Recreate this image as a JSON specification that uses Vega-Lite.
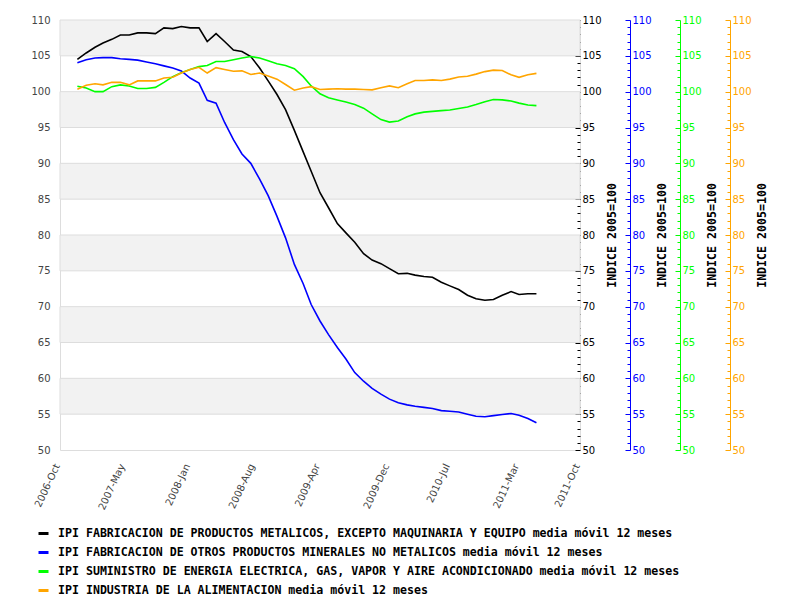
{
  "$schema": "https://vega.github.io/schema/vega-lite/v6.json",
  "width": 520,
  "height": 430,
  "autosize": "none",
  "padding": {"left": 60, "top": 20, "right": 220, "bottom": 150},
  "background": "white",
  "config": {
    "view": {"stroke": "#dddddd"},
    "axis": {"labelFont": "DejaVu Sans", "labelFontSize": 10}
  },
  "datasets": {
    "bands": [
      {"lo": 105, "hi": 110}, {"lo": 95, "hi": 100}, {"lo": 85, "hi": 90},
      {"lo": 75, "hi": 80}, {"lo": 65, "hi": 70}, {"lo": 55, "hi": 60}
    ],
    "ipi": [
      {"date": "2006-12-01", "metal": 104.5, "mineral": 104.05, "energia": 100.75, "alim": 100.35},
      {"date": "2007-01-01", "metal": 105.4, "mineral": 104.45, "energia": 100.5, "alim": 100.9},
      {"date": "2007-02-01", "metal": 106.2, "mineral": 104.7, "energia": 100.0, "alim": 101.1},
      {"date": "2007-03-01", "metal": 106.8, "mineral": 104.75, "energia": 100.0, "alim": 100.95},
      {"date": "2007-04-01", "metal": 107.3, "mineral": 104.75, "energia": 100.7, "alim": 101.3},
      {"date": "2007-05-01", "metal": 107.9, "mineral": 104.6, "energia": 100.95, "alim": 101.3},
      {"date": "2007-06-01", "metal": 107.9, "mineral": 104.5, "energia": 100.8, "alim": 100.95},
      {"date": "2007-07-01", "metal": 108.2, "mineral": 104.4, "energia": 100.45, "alim": 101.5},
      {"date": "2007-08-01", "metal": 108.2, "mineral": 104.15, "energia": 100.45, "alim": 101.5},
      {"date": "2007-09-01", "metal": 108.1, "mineral": 103.9, "energia": 100.6, "alim": 101.5},
      {"date": "2007-10-01", "metal": 108.9, "mineral": 103.6, "energia": 101.3, "alim": 101.9},
      {"date": "2007-11-01", "metal": 108.8, "mineral": 103.3, "energia": 102.1, "alim": 102.0},
      {"date": "2007-12-01", "metal": 109.1, "mineral": 102.9, "energia": 102.65, "alim": 102.6},
      {"date": "2008-01-01", "metal": 108.9, "mineral": 101.9, "energia": 103.1, "alim": 103.1},
      {"date": "2008-02-01", "metal": 108.9, "mineral": 101.2, "energia": 103.5, "alim": 103.4},
      {"date": "2008-03-01", "metal": 107.0, "mineral": 98.8, "energia": 103.65, "alim": 102.6},
      {"date": "2008-04-01", "metal": 108.1, "mineral": 98.4, "energia": 104.2, "alim": 103.35},
      {"date": "2008-05-01", "metal": 107.0, "mineral": 95.7, "energia": 104.2, "alim": 103.1},
      {"date": "2008-06-01", "metal": 105.8, "mineral": 93.3, "energia": 104.45, "alim": 102.85},
      {"date": "2008-07-01", "metal": 105.6, "mineral": 91.3, "energia": 104.7, "alim": 102.9},
      {"date": "2008-08-01", "metal": 104.9, "mineral": 90.0, "energia": 104.9, "alim": 102.4},
      {"date": "2008-09-01", "metal": 103.3, "mineral": 87.8, "energia": 104.7, "alim": 102.6},
      {"date": "2008-10-01", "metal": 101.5, "mineral": 85.5, "energia": 104.3, "alim": 102.2},
      {"date": "2008-11-01", "metal": 99.6, "mineral": 82.6, "energia": 103.9, "alim": 101.75},
      {"date": "2008-12-01", "metal": 97.5, "mineral": 79.6, "energia": 103.65, "alim": 101.0},
      {"date": "2009-01-01", "metal": 94.6, "mineral": 75.9, "energia": 103.2, "alim": 100.2},
      {"date": "2009-02-01", "metal": 91.6, "mineral": 73.2, "energia": 102.1, "alim": 100.5},
      {"date": "2009-03-01", "metal": 88.9, "mineral": 70.3, "energia": 100.8, "alim": 100.7},
      {"date": "2009-04-01", "metal": 85.9, "mineral": 68.0, "energia": 99.7, "alim": 100.3},
      {"date": "2009-05-01", "metal": 83.8, "mineral": 66.1, "energia": 99.15, "alim": 100.35},
      {"date": "2009-06-01", "metal": 81.6, "mineral": 64.3, "energia": 98.85, "alim": 100.4},
      {"date": "2009-07-01", "metal": 80.3, "mineral": 62.7, "energia": 98.55, "alim": 100.35},
      {"date": "2009-08-01", "metal": 79.0, "mineral": 60.8, "energia": 98.2, "alim": 100.35},
      {"date": "2009-09-01", "metal": 77.4, "mineral": 59.6, "energia": 97.7, "alim": 100.3},
      {"date": "2009-10-01", "metal": 76.5, "mineral": 58.6, "energia": 96.9, "alim": 100.25},
      {"date": "2009-11-01", "metal": 76.0, "mineral": 57.8, "energia": 96.1, "alim": 100.55},
      {"date": "2009-12-01", "metal": 75.3, "mineral": 57.1, "energia": 95.75, "alim": 100.8},
      {"date": "2010-01-01", "metal": 74.6, "mineral": 56.6, "energia": 95.9, "alim": 100.55},
      {"date": "2010-02-01", "metal": 74.65, "mineral": 56.3, "energia": 96.5, "alim": 101.1},
      {"date": "2010-03-01", "metal": 74.4, "mineral": 56.1, "energia": 96.9, "alim": 101.55},
      {"date": "2010-04-01", "metal": 74.2, "mineral": 55.95, "energia": 97.15, "alim": 101.55},
      {"date": "2010-05-01", "metal": 74.1, "mineral": 55.8, "energia": 97.25, "alim": 101.65},
      {"date": "2010-06-01", "metal": 73.4, "mineral": 55.5, "energia": 97.35, "alim": 101.55},
      {"date": "2010-07-01", "metal": 72.9, "mineral": 55.4, "energia": 97.45, "alim": 101.75},
      {"date": "2010-08-01", "metal": 72.4, "mineral": 55.3, "energia": 97.65, "alim": 102.05},
      {"date": "2010-09-01", "metal": 71.6, "mineral": 55.0, "energia": 97.85, "alim": 102.15},
      {"date": "2010-10-01", "metal": 71.1, "mineral": 54.7, "energia": 98.2, "alim": 102.45},
      {"date": "2010-11-01", "metal": 70.9, "mineral": 54.65, "energia": 98.6, "alim": 102.8},
      {"date": "2010-12-01", "metal": 71.0, "mineral": 54.8, "energia": 98.9, "alim": 103.0},
      {"date": "2011-01-01", "metal": 71.6, "mineral": 54.95, "energia": 98.85, "alim": 102.95},
      {"date": "2011-02-01", "metal": 72.1, "mineral": 55.1, "energia": 98.7, "alim": 102.35},
      {"date": "2011-03-01", "metal": 71.7, "mineral": 54.85, "energia": 98.4, "alim": 102.0},
      {"date": "2011-04-01", "metal": 71.8, "mineral": 54.4, "energia": 98.15, "alim": 102.35},
      {"date": "2011-05-01", "metal": 71.8, "mineral": 53.8, "energia": 98.05, "alim": 102.55}
    ]
  },
  "layer": [
    {
      "data": {"name": "bands"},
      "mark": {"type": "rect", "fill": "#f2f2f2", "stroke": "#dddddd", "strokeWidth": 1},
      "encoding": {
        "y": {
          "field": "lo", "type": "quantitative",
          "scale": {"domain": [50, 110], "nice": false, "zero": false},
          "axis": {
            "orient": "left", "values": [50, 55, 60, 65, 70, 75, 80, 85, 90, 95, 100, 105, 110],
            "ticks": false, "domain": false, "grid": false, "labelColor": "#444444",
            "labelPadding": 10, "title": null
          }
        },
        "y2": {"field": "hi"}
      }
    },
    {
      "data": {"name": "ipi"},
      "encoding": {
        "x": {
          "field": "date", "type": "temporal",
          "scale": {"type": "utc", "domain": [{"year": 2006, "month": 10, "date": 1, "utc": true}, {"year": 2011, "month": 10, "date": 1, "utc": true}]},
          "axis": {
            "values": [
              {"year": 2006, "month": 10, "date": 1, "utc": true},
              {"year": 2007, "month": 5, "date": 17, "utc": true},
              {"year": 2008, "month": 1, "date": 1, "utc": true},
              {"year": 2008, "month": 8, "date": 15, "utc": true},
              {"year": 2009, "month": 4, "date": 1, "utc": true},
              {"year": 2009, "month": 12, "date": 1, "utc": true},
              {"year": 2010, "month": 7, "date": 1, "utc": true},
              {"year": 2011, "month": 3, "date": 1, "utc": true},
              {"year": 2011, "month": 10, "date": 1, "utc": true}
            ],
            "labelExpr": "utcFormat(datum.value, '%Y-%b')", "labelAngle": -65,
            "ticks": false, "domain": false, "grid": false, "labelColor": "#444444",
            "labelPadding": 14, "labelOffset": -3, "title": null, "labelOverlap": false, "labelFlush": false
          }
        }
      },
      "layer": [
        {
          "mark": {"type": "line", "strokeWidth": 1.6},
          "encoding": {
            "y": {
              "field": "metal", "type": "quantitative",
              "scale": {"domain": [50, 110], "nice": false, "zero": false},
              "axis": {
                "orient": "right", "offset": 0,
                "values": [50,51,52,53,54,55,56,57,58,59,60,61,62,63,64,65,66,67,68,69,70,71,72,73,74,75,76,77,78,79,80,81,82,83,84,85,86,87,88,89,90,91,92,93,94,95,96,97,98,99,100,101,102,103,104,105,106,107,108,109,110],
                "labelExpr": "datum.value % 5 === 0 ? datum.label : ''",
                "tickSize": {"condition": {"test": "datum.value % 5 === 0", "value": -5}, "value": -3},
                "tickColor": "#000000", "labelColor": "#000000", "domain": false, "grid": false,
                "labelPadding": 7, "labelOverlap": false, "labelFlush": false,
                "title": "INDICE 2005=100", "titleFont": "DejaVu Sans Mono", "titleFontWeight": "bold",
                "titleFontSize": 11.6, "titleColor": "#000000", "titleAngle": 270,
                "titleX": 32, "titleY": 215, "titleAlign": "center", "titleBaseline": "middle"
              }
            },
            "color": {
              "datum": "IPI FABRICACION DE PRODUCTOS METALICOS, EXCEPTO MAQUINARIA Y EQUIPO media móvil 12 meses",
              "type": "nominal",
              "scale": {
                "domain": [
                  "IPI FABRICACION DE PRODUCTOS METALICOS, EXCEPTO MAQUINARIA Y EQUIPO media móvil 12 meses",
                  "IPI FABRICACION DE OTROS PRODUCTOS MINERALES NO METALICOS media móvil 12 meses",
                  "IPI SUMINISTRO DE ENERGIA ELECTRICA, GAS, VAPOR Y AIRE ACONDICIONADO media móvil 12 meses",
                  "IPI INDUSTRIA DE LA ALIMENTACION media móvil 12 meses"
                ],
                "range": ["#000000", "#0000ff", "#00ff00", "#ffa500"]
              },
              "legend": {
                "orient": "none", "legendX": -23, "legendY": 507, "direction": "vertical", "title": null,
                "symbolType": "stroke", "symbolStrokeWidth": 3, "symbolSize": 100,
                "labelFont": "DejaVu Sans Mono", "labelFontWeight": "bold", "labelFontSize": 11.6,
                "labelColor": "#000000", "labelLimit": 800, "rowPadding": 6, "labelOffset": 8
              }
            }
          }
        },
        {
          "mark": {"type": "line", "strokeWidth": 1.6},
          "encoding": {
            "y": {
              "field": "mineral", "type": "quantitative",
              "scale": {"domain": [50, 110], "nice": false, "zero": false},
              "axis": {
                "orient": "right", "offset": 50,
                "values": [50,51,52,53,54,55,56,57,58,59,60,61,62,63,64,65,66,67,68,69,70,71,72,73,74,75,76,77,78,79,80,81,82,83,84,85,86,87,88,89,90,91,92,93,94,95,96,97,98,99,100,101,102,103,104,105,106,107,108,109,110],
                "labelExpr": "datum.value % 5 === 0 ? datum.label : ''",
                "tickSize": {"condition": {"test": "datum.value % 5 === 0", "value": -5}, "value": -3},
                "tickColor": "#0000ff", "labelColor": "#0000ff", "domain": true, "domainColor": "#0000ff", "grid": false,
                "labelPadding": 7, "labelOverlap": false, "labelFlush": false,
                "title": "INDICE 2005=100", "titleFont": "DejaVu Sans Mono", "titleFontWeight": "bold",
                "titleFontSize": 11.6, "titleColor": "#000000", "titleAngle": 270,
                "titleX": 32, "titleY": 215, "titleAlign": "center", "titleBaseline": "middle"
              }
            },
            "color": {"datum": "IPI FABRICACION DE OTROS PRODUCTOS MINERALES NO METALICOS media móvil 12 meses", "type": "nominal"}
          }
        },
        {
          "mark": {"type": "line", "strokeWidth": 1.6},
          "encoding": {
            "y": {
              "field": "energia", "type": "quantitative",
              "scale": {"domain": [50, 110], "nice": false, "zero": false},
              "axis": {
                "orient": "right", "offset": 100,
                "values": [50,51,52,53,54,55,56,57,58,59,60,61,62,63,64,65,66,67,68,69,70,71,72,73,74,75,76,77,78,79,80,81,82,83,84,85,86,87,88,89,90,91,92,93,94,95,96,97,98,99,100,101,102,103,104,105,106,107,108,109,110],
                "labelExpr": "datum.value % 5 === 0 ? datum.label : ''",
                "tickSize": {"condition": {"test": "datum.value % 5 === 0", "value": -5}, "value": -3},
                "tickColor": "#00ff00", "labelColor": "#00ff00", "domain": true, "domainColor": "#00ff00", "grid": false,
                "labelPadding": 7, "labelOverlap": false, "labelFlush": false,
                "title": "INDICE 2005=100", "titleFont": "DejaVu Sans Mono", "titleFontWeight": "bold",
                "titleFontSize": 11.6, "titleColor": "#000000", "titleAngle": 270,
                "titleX": 32, "titleY": 215, "titleAlign": "center", "titleBaseline": "middle"
              }
            },
            "color": {"datum": "IPI SUMINISTRO DE ENERGIA ELECTRICA, GAS, VAPOR Y AIRE ACONDICIONADO media móvil 12 meses", "type": "nominal"}
          }
        },
        {
          "mark": {"type": "line", "strokeWidth": 1.6},
          "encoding": {
            "y": {
              "field": "alim", "type": "quantitative",
              "scale": {"domain": [50, 110], "nice": false, "zero": false},
              "axis": {
                "orient": "right", "offset": 150,
                "values": [50,51,52,53,54,55,56,57,58,59,60,61,62,63,64,65,66,67,68,69,70,71,72,73,74,75,76,77,78,79,80,81,82,83,84,85,86,87,88,89,90,91,92,93,94,95,96,97,98,99,100,101,102,103,104,105,106,107,108,109,110],
                "labelExpr": "datum.value % 5 === 0 ? datum.label : ''",
                "tickSize": {"condition": {"test": "datum.value % 5 === 0", "value": -5}, "value": -3},
                "tickColor": "#ffa500", "labelColor": "#ffa500", "domain": true, "domainColor": "#ffa500", "grid": false,
                "labelPadding": 7, "labelOverlap": false, "labelFlush": false,
                "title": "INDICE 2005=100", "titleFont": "DejaVu Sans Mono", "titleFontWeight": "bold",
                "titleFontSize": 11.6, "titleColor": "#000000", "titleAngle": 270,
                "titleX": 32, "titleY": 215, "titleAlign": "center", "titleBaseline": "middle"
              }
            },
            "color": {"datum": "IPI INDUSTRIA DE LA ALIMENTACION media móvil 12 meses", "type": "nominal"}
          }
        }
      ],
      "resolve": {"axis": {"y": "independent"}}
    }
  ],
  "resolve": {"axis": {"y": "independent"}}
}
